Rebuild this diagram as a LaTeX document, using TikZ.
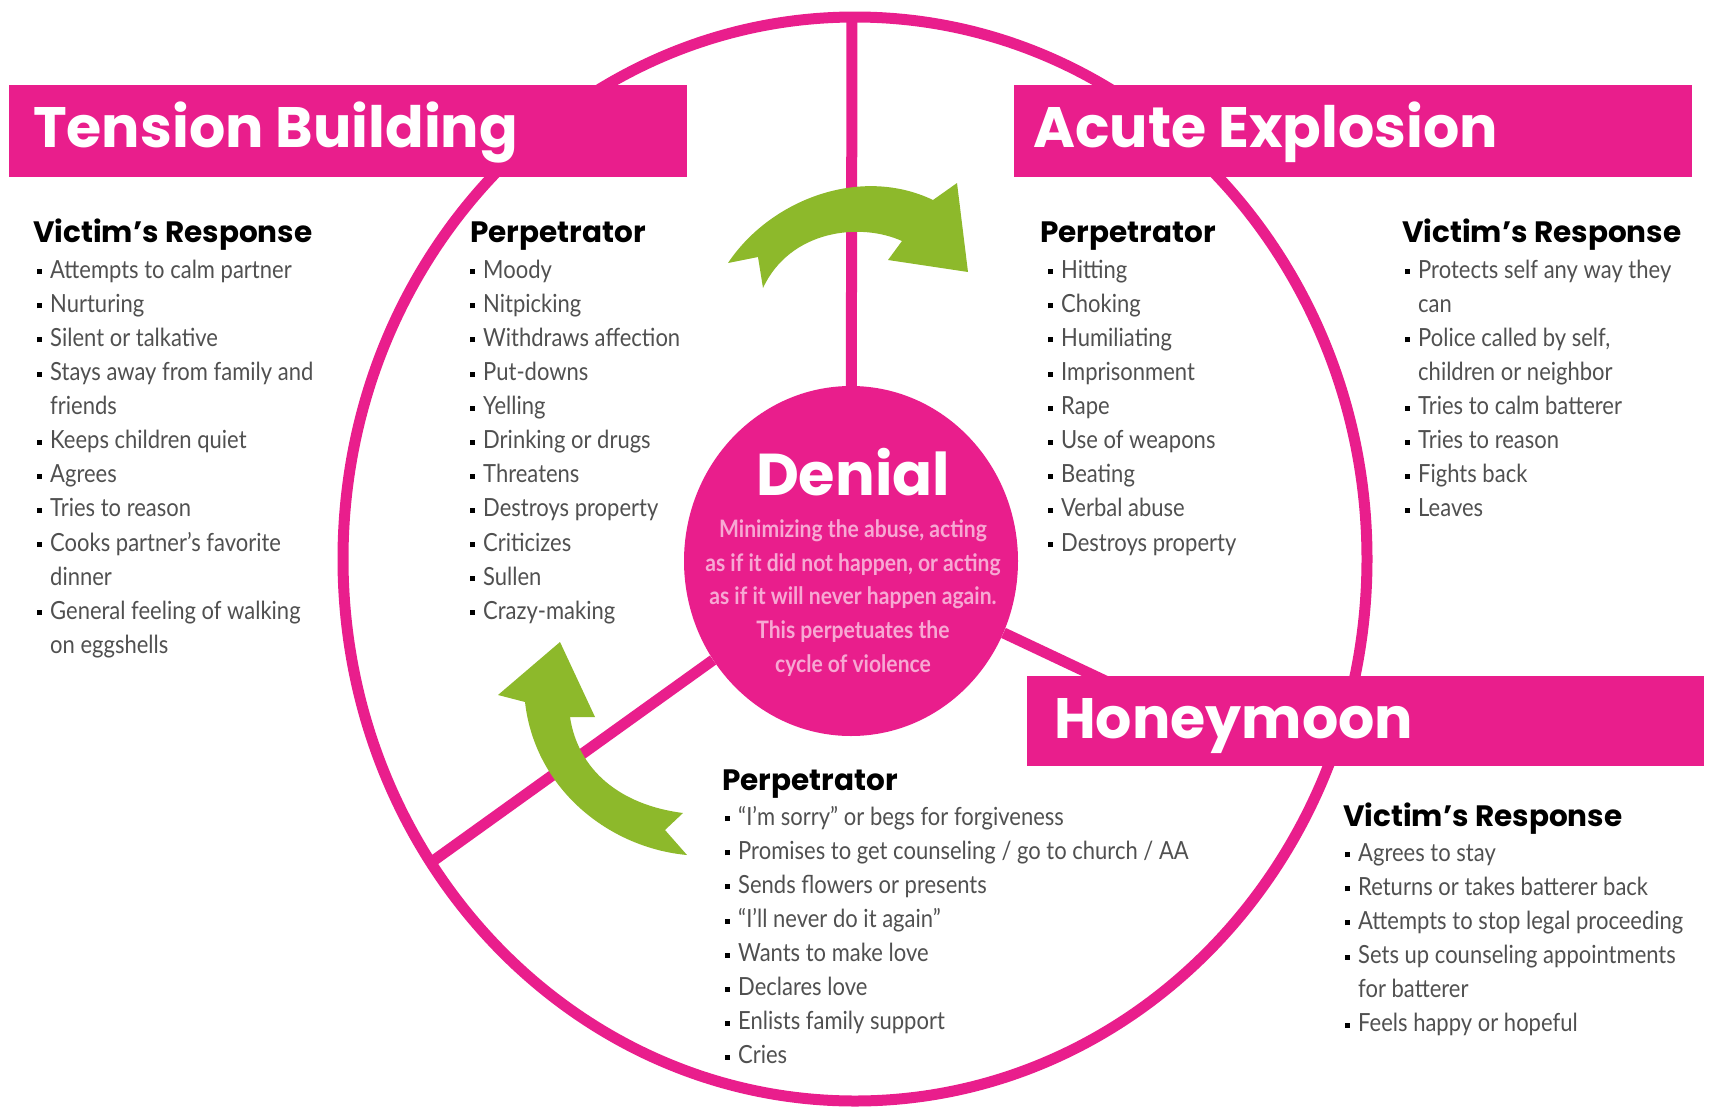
\documentclass[tikz,border=0pt]{standalone}
\usepackage{fontspec}
\usepackage{xcolor}
\usetikzlibrary{shapes.geometric}
\setmainfont{Lato}
\newfontfamily\headfont{Poppins}
\newfontfamily\bodyfont{Lato}[FakeStretch=0.88]
\definecolor{pinkc}{HTML}{E91E8C}
\definecolor{greenc}{HTML}{8DB92B}
\definecolor{textgray}{HTML}{505050}
\definecolor{softpink}{HTML}{F7A8D3}
\newcommand{\fst}{\rule{0pt}{20pt}}
\newcommand{\itm}{\makebox[13pt][l]{\color{black}\rule[4pt]{5pt}{5pt}}}
\newcommand{\cnt}{\hspace*{13pt}}

\begin{document}
\begin{tikzpicture}[x=1pt,y=-1pt,
  ring/.style={draw=pinkc,line width=11pt},
  spokeline/.style={draw=pinkc,line width=11pt},
  banner/.style={fill=pinkc,inner sep=0pt,anchor=north west,minimum height=92pt},
  titletext/.style={text=white,font=\headfont\bfseries\fontsize{57}{64}\selectfont,inner sep=0pt,anchor=base west},
  colhead/.style={text=black,font=\headfont\bfseries\fontsize{29.5}{36}\selectfont,inner sep=0pt,anchor=base west},
  bullets/.style={text=textgray,font=\bodyfont\fontsize{25}{34.1}\selectfont,align=left,inner sep=0pt,anchor=north west},
  denialdisc/.style={ellipse,fill=pinkc,minimum width=334pt,minimum height=350pt,inner sep=0pt},
  arrowfill/.style={fill=greenc}]
  \useasboundingbox (0,0) rectangle (1709,1114);

  % cycle ring and spokes
  \draw[ring] (855,559) ellipse [x radius=512, y radius=542];
  \coordinate (ringtop) at (852,17);
  \coordinate (ringleft) at (433,861);
  \coordinate (ringright) at (1150,702);

  \node[denialdisc] (denial) at (851,561) {};
  \draw[spokeline] (denial) -- (ringtop);
  \draw[spokeline] (denial) -- (ringleft);
  \draw[spokeline] (denial) -- (ringright);

  \node[text=white,font=\headfont\bfseries\fontsize{59}{64}\selectfont,inner sep=0pt,anchor=base]
    (denialtitle) at (853,495) {Denial};
  \node[text=softpink,font=\bodyfont\bfseries\fontsize{24}{33.8}\selectfont,align=center,inner sep=0pt,anchor=north]
    (denialtext) at (853,517) {\fst Minimizing the abuse, acting\\as if it did not happen, or acting\\
    as if it will never happen again.\\This perpetuates the\\cycle of violence};

  % green arrows
  \fill[arrowfill] (728,263) .. controls (770,200) and (860,165) .. (933,200) -- (957,183)
    -- (968,272) -- (888,260) -- (902,241) .. controls (860,222) and (790,230) .. (763,288)
    -- (758,257) -- cycle;
  \fill[arrowfill] (560,642) -- (595,717) -- (570,717) .. controls (578,770) and (620,805) .. (683,813)
    -- (665,830) -- (687,855) .. controls (610,848) and (535,790) .. (525,702) -- (498,695) -- cycle;

  % phase banners
  \node[banner,minimum width=678pt] (tensionbar) at (9,85) {};
  \node[banner,minimum width=678pt] (acutebar) at (1014,85) {};
  \node[banner,minimum width=677pt,minimum height=90pt] (honeybar) at (1027,676) {};
  \node[titletext] (tensiontitle) at (33,147) {Tension Building};
  \node[titletext] (acutetitle) at (1033,147) {Acute Explosion};
  \node[titletext] (honeytitle) at (1054,738) {Honeymoon};

  % tension building
  \node[colhead] (tvhead) at (33,242) {Victim’s Response};
  \node[bullets] (tvlist) at (37,258) {\fst\itm Attempts to calm partner\\
    \itm Nurturing\\
    \itm Silent or talkative\\
    \itm Stays away from family and\\
    \cnt friends\\
    \itm Keeps children quiet\\
    \itm Agrees\\
    \itm Tries to reason\\
    \itm Cooks partner’s favorite\\
    \cnt dinner\\
    \itm General feeling of walking\\
    \cnt on eggshells};
  \node[colhead] (tphead) at (470,242) {Perpetrator};
  \node[bullets] (tplist) at (470,258) {\fst\itm Moody\\
    \itm Nitpicking\\
    \itm Withdraws affection\\
    \itm Put-downs\\
    \itm Yelling\\
    \itm Drinking or drugs\\
    \itm Threatens\\
    \itm Destroys property\\
    \itm Criticizes\\
    \itm Sullen\\
    \itm Crazy-making};

  % acute explosion
  \node[colhead] (aphead) at (1040,242) {Perpetrator};
  \node[bullets] (aplist) at (1048,258) {\fst\itm Hitting\\
    \itm Choking\\
    \itm Humiliating\\
    \itm Imprisonment\\
    \itm Rape\\
    \itm Use of weapons\\
    \itm Beating\\
    \itm Verbal abuse\\
    \itm Destroys property};
  \node[colhead] (avhead) at (1402,242) {Victim’s Response};
  \node[bullets] (avlist) at (1405,258) {\fst\itm Protects self any way they\\
    \cnt can\\
    \itm Police called by self,\\
    \cnt children or neighbor\\
    \itm Tries to calm batterer\\
    \itm Tries to reason\\
    \itm Fights back\\
    \itm Leaves};

  % honeymoon
  \node[colhead] (hphead) at (722,790) {Perpetrator};
  \node[bullets] (hplist) at (725,805) {\fst\itm “I’m sorry” or begs for forgiveness\\
    \itm Promises to get counseling / go to church / AA\\
    \itm Sends flowers or presents\\
    \itm “I’ll never do it again”\\
    \itm Wants to make love\\
    \itm Declares love\\
    \itm Enlists family support\\
    \itm Cries};
  \node[colhead] (hvhead) at (1343,826) {Victim’s Response};
  \node[bullets] (hvlist) at (1345,841) {\fst\itm Agrees to stay\\
    \itm Returns or takes batterer back\\
    \itm Attempts to stop legal proceeding\\
    \itm Sets up counseling appointments\\
    \cnt for batterer\\
    \itm Feels happy or hopeful};
\end{tikzpicture}
\end{document}
